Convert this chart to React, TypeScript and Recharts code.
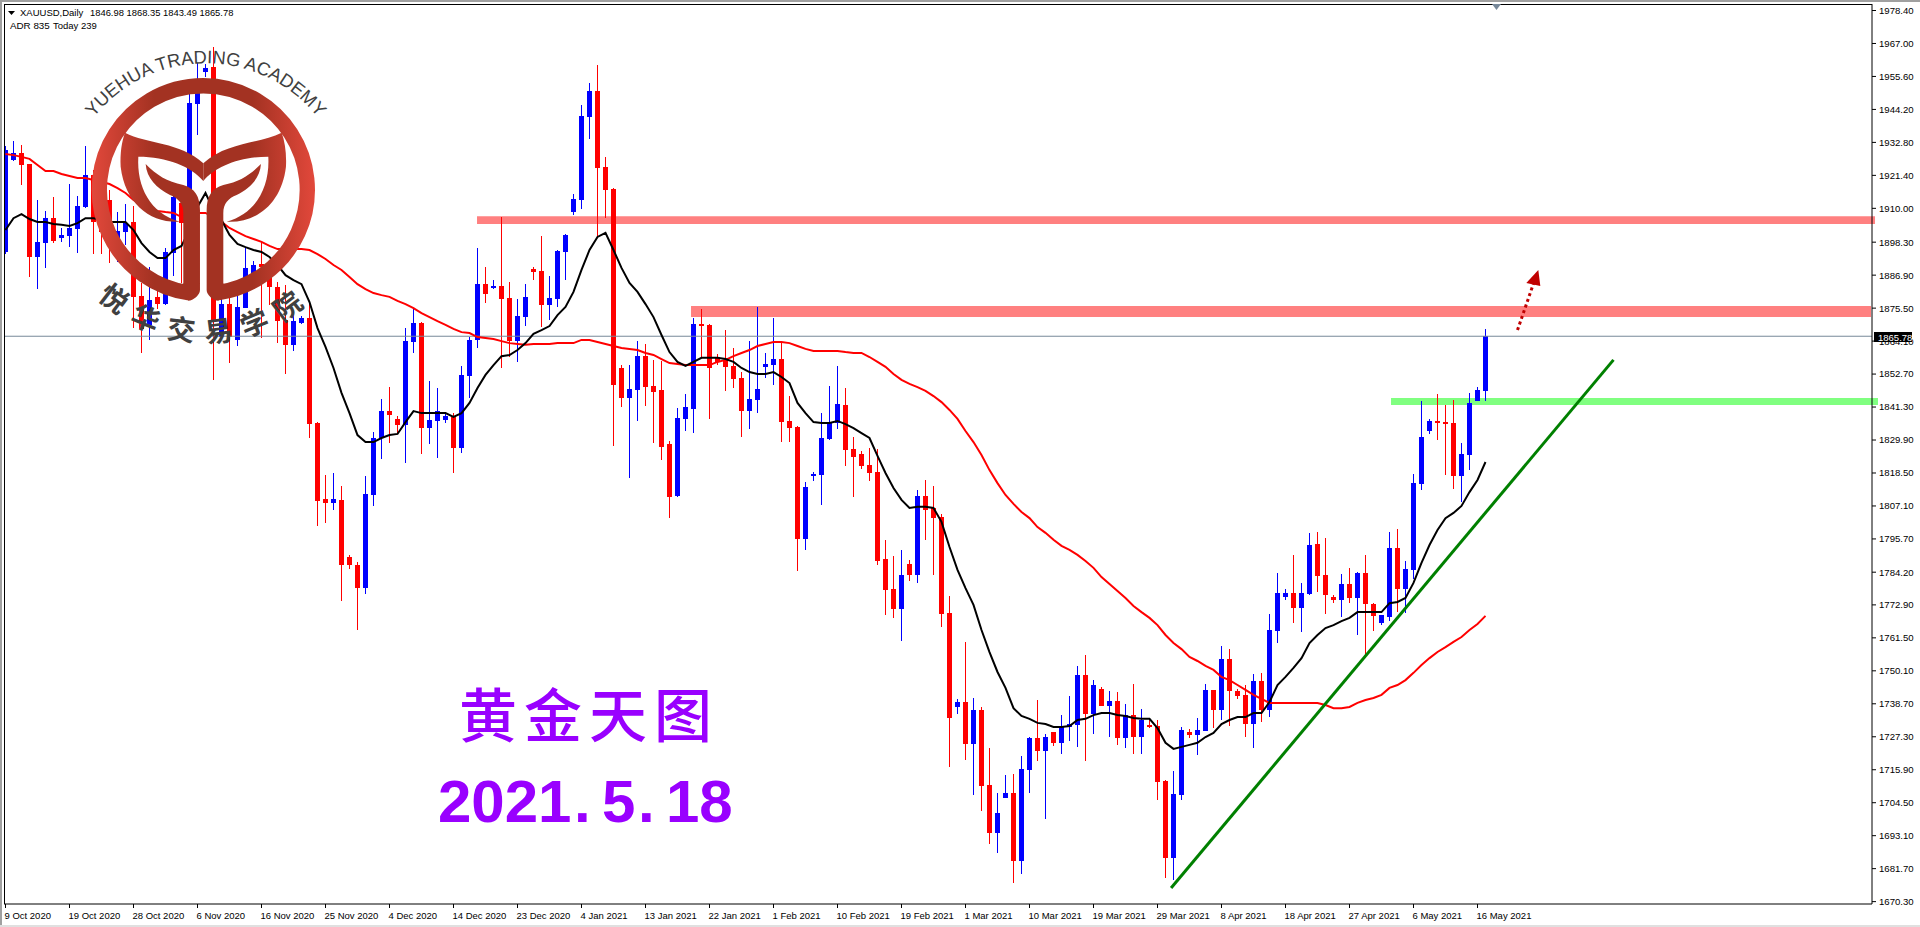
import {
  ComposedChart,
  Bar,
  Line,
  XAxis,
  YAxis,
  ReferenceArea,
  ReferenceLine,
  ReferenceDot,
} from 'recharts';

// XAUUSD daily candles
const opens = [
  1894.9, 1926.7, 1929.1, 1925.3, 1893.2, 1898.0, 1906.6, 1899.7, 1900.4, 1902.9,
  1910.5, 1921.5, 1916.3, 1912.9, 1899.0, 1901.8, 1905.3, 1879.7, 1869.7, 1879.4,
  1876.9, 1894.6, 1911.9, 1911.5, 1946.1, 1957.1, 1958.9, 1865.5, 1876.9, 1864.5,
  1875.5, 1887.6, 1890.8, 1889.4, 1882.8, 1871.4, 1862.8, 1870.4, 1872.1, 1835.8,
  1809.5, 1808.1, 1809.2, 1789.5, 1786.7, 1778.7, 1810.9, 1830.6, 1839.9, 1837.2,
  1835.1, 1863.8, 1870.4, 1834.0, 1836.5, 1836.8, 1838.2, 1827.1, 1852.0, 1864.5,
  1883.8, 1882.5, 1883.1, 1879.0, 1864.1, 1872.4, 1889.0, 1888.3, 1876.6, 1878.7,
  1894.9, 1908.7, 1912.9, 1941.6, 1950.6, 1924.3, 1916.7, 1854.8, 1844.4, 1847.2,
  1858.9, 1848.6, 1847.2, 1828.5, 1810.6, 1837.2, 1840.6, 1870.0, 1869.7, 1858.3,
  1857.6, 1855.5, 1851.4, 1839.9, 1843.7, 1855.2, 1855.8, 1857.9, 1836.5, 1834.4,
  1795.7, 1817.8, 1817.8, 1830.3, 1835.8, 1842.0, 1826.8, 1825.1, 1821.3, 1818.8,
  1788.8, 1778.4, 1771.5, 1787.0, 1783.2, 1810.6, 1806.4, 1803.3, 1770.1, 1737.6,
  1739.3, 1724.8, 1736.6, 1710.6, 1694.0, 1706.1, 1707.9, 1684.4, 1715.8, 1726.9,
  1722.4, 1729.0, 1725.2, 1730.7, 1731.4, 1748.7, 1735.2, 1743.8, 1737.9, 1739.7,
  1726.9, 1734.8, 1727.2, 1731.4, 1731.0, 1712.0, 1685.4, 1707.2, 1729.0, 1727.9,
  1729.3, 1743.5, 1736.6, 1754.2, 1743.1, 1741.7, 1731.7, 1746.6, 1736.6, 1763.9,
  1775.6, 1777.0, 1771.8, 1776.7, 1794.0, 1783.2, 1775.6, 1774.6, 1780.1, 1775.3,
  1783.9, 1773.2, 1766.6, 1768.7, 1792.6, 1778.4, 1785.0, 1814.7, 1833.0, 1836.5,
  1836.1, 1835.8, 1817.5, 1824.7, 1843.4, 1846.98,
];
const highs = [
  1931.6, 1933.3, 1931.9, 1925.3, 1912.9, 1909.1, 1913.9, 1903.2, 1918.4, 1914.3,
  1931.6, 1923.3, 1919.8, 1916.3, 1908.7, 1911.5, 1910.8, 1884.2, 1889.7, 1881.8,
  1896.3, 1916.3, 1914.6, 1949.9, 1960.3, 1959.9, 1965.8, 1880.0, 1884.2, 1880.0,
  1896.3, 1891.8, 1898.4, 1892.1, 1884.5, 1883.5, 1874.9, 1872.8, 1877.6, 1836.1,
  1817.8, 1818.5, 1814.0, 1790.2, 1787.7, 1817.5, 1832.7, 1844.1, 1848.2, 1838.2,
  1868.6, 1875.5, 1870.7, 1850.3, 1847.9, 1839.6, 1839.2, 1855.5, 1865.5, 1896.3,
  1889.7, 1885.2, 1907.0, 1884.5, 1878.7, 1883.8, 1889.7, 1900.4, 1886.6, 1895.6,
  1901.1, 1915.0, 1945.7, 1953.3, 1959.6, 1927.8, 1917.0, 1855.8, 1855.8, 1864.1,
  1863.1, 1857.6, 1857.2, 1829.6, 1841.0, 1845.8, 1872.1, 1875.2, 1870.0, 1859.6,
  1867.9, 1861.7, 1853.4, 1864.1, 1875.9, 1860.0, 1872.1, 1863.8, 1845.1, 1834.8,
  1815.4, 1818.8, 1839.2, 1848.6, 1855.5, 1847.9, 1830.9, 1826.1, 1827.1, 1826.8,
  1795.4, 1789.8, 1791.9, 1788.4, 1812.6, 1816.1, 1814.0, 1804.3, 1776.0, 1740.4,
  1760.1, 1740.7, 1737.6, 1723.4, 1707.9, 1714.1, 1714.4, 1720.7, 1727.2, 1740.0,
  1728.3, 1729.0, 1734.8, 1741.4, 1751.8, 1755.6, 1746.9, 1744.5, 1743.1, 1742.8,
  1738.6, 1745.6, 1736.9, 1733.1, 1733.1, 1712.4, 1715.5, 1730.7, 1730.0, 1733.8,
  1745.6, 1743.5, 1758.7, 1757.6, 1743.8, 1745.2, 1749.0, 1749.4, 1769.8, 1783.9,
  1778.4, 1790.2, 1780.5, 1797.8, 1798.1, 1796.0, 1776.3, 1783.6, 1785.7, 1784.3,
  1790.2, 1773.5, 1769.4, 1798.1, 1799.1, 1788.1, 1818.1, 1843.4, 1837.2, 1845.8,
  1842.0, 1843.7, 1828.9, 1846.2, 1848.2, 1868.35,
];
const lows = [
  1894.2, 1926.4, 1918.1, 1886.3, 1882.1, 1889.4, 1898.0, 1898.4, 1896.6, 1894.6,
  1910.1, 1894.2, 1894.2, 1891.1, 1891.4, 1897.3, 1868.6, 1860.0, 1864.5, 1875.2,
  1876.6, 1886.6, 1884.2, 1911.1, 1935.4, 1955.4, 1850.7, 1864.5, 1856.5, 1862.4,
  1875.5, 1886.9, 1865.2, 1876.6, 1863.4, 1852.7, 1860.7, 1870.0, 1830.6, 1800.2,
  1801.2, 1805.7, 1774.3, 1785.3, 1764.2, 1776.7, 1807.1, 1823.3, 1828.9, 1832.3,
  1821.9, 1860.0, 1825.1, 1828.5, 1823.7, 1835.8, 1818.5, 1825.4, 1844.4, 1861.7,
  1877.3, 1882.1, 1854.8, 1858.6, 1856.9, 1869.3, 1885.2, 1869.0, 1871.4, 1875.9,
  1885.2, 1907.7, 1909.8, 1934.0, 1900.1, 1906.6, 1827.8, 1841.3, 1816.8, 1836.5,
  1841.7, 1828.9, 1823.0, 1802.9, 1810.2, 1833.0, 1832.3, 1858.3, 1837.2, 1855.8,
  1846.9, 1847.9, 1830.9, 1833.7, 1839.2, 1851.4, 1848.9, 1829.2, 1829.2, 1784.6,
  1791.9, 1815.7, 1807.4, 1829.9, 1833.7, 1820.9, 1810.2, 1819.9, 1815.7, 1786.7,
  1769.4, 1768.4, 1760.4, 1781.2, 1780.5, 1795.4, 1783.2, 1765.3, 1716.9, 1735.2,
  1719.3, 1707.2, 1701.6, 1690.2, 1687.1, 1706.1, 1676.8, 1679.9, 1707.9, 1719.0,
  1698.9, 1724.1, 1721.4, 1725.8, 1723.8, 1719.0, 1728.3, 1737.9, 1727.2, 1724.5,
  1723.4, 1721.4, 1721.4, 1730.3, 1705.5, 1678.5, 1677.8, 1705.5, 1726.9, 1721.0,
  1729.3, 1730.3, 1733.1, 1731.0, 1740.4, 1727.2, 1723.4, 1732.4, 1734.1, 1759.7,
  1774.6, 1766.6, 1763.5, 1776.3, 1777.4, 1769.8, 1773.5, 1768.7, 1773.5, 1762.5,
  1755.6, 1763.9, 1765.9, 1767.3, 1770.4, 1770.1, 1781.9, 1812.6, 1832.0, 1829.9,
  1817.8, 1813.0, 1808.5, 1819.5, 1843.4, 1843.49,
];
const closes = [
  1930.2, 1929.1, 1925.0, 1893.2, 1898.4, 1906.6, 1898.7, 1900.8, 1903.2, 1910.8,
  1921.5, 1905.3, 1901.8, 1900.4, 1902.2, 1904.9, 1879.4, 1868.3, 1878.3, 1876.9,
  1894.9, 1913.9, 1904.9, 1946.4, 1949.9, 1958.5, 1871.4, 1876.9, 1865.5, 1875.9,
  1889.4, 1890.4, 1889.7, 1882.8, 1871.0, 1862.8, 1871.0, 1872.1, 1835.4, 1808.8,
  1808.1, 1809.5, 1786.7, 1786.7, 1778.7, 1811.2, 1830.6, 1839.9, 1838.6, 1835.1,
  1864.1, 1870.4, 1834.0, 1836.8, 1839.9, 1838.2, 1827.1, 1852.4, 1864.5, 1883.8,
  1880.4, 1883.1, 1878.7, 1864.1, 1872.8, 1879.4, 1888.0, 1876.6, 1879.0, 1895.2,
  1900.8, 1913.2, 1941.9, 1950.6, 1923.9, 1916.3, 1848.9, 1844.4, 1847.5, 1858.9,
  1848.2, 1846.5, 1827.5, 1810.2, 1837.5, 1841.3, 1870.0, 1869.3, 1854.8, 1856.9,
  1855.2, 1851.0, 1839.9, 1844.1, 1847.5, 1856.2, 1857.9, 1836.1, 1834.0, 1795.7,
  1813.7, 1818.1, 1830.6, 1835.8, 1842.4, 1826.5, 1824.0, 1820.9, 1818.5, 1788.1,
  1778.0, 1771.5, 1783.2, 1783.2, 1810.6, 1805.7, 1802.9, 1769.8, 1733.8, 1739.3,
  1724.8, 1736.6, 1710.3, 1694.0, 1700.9, 1707.9, 1684.4, 1716.2, 1726.9, 1722.4,
  1727.2, 1725.2, 1730.7, 1731.7, 1748.7, 1735.2, 1745.2, 1737.9, 1739.7, 1726.9,
  1734.8, 1727.2, 1733.1, 1730.7, 1711.7, 1685.4, 1707.5, 1729.6, 1727.9, 1729.6,
  1743.5, 1736.6, 1754.2, 1743.1, 1741.4, 1731.7, 1746.6, 1736.6, 1764.2, 1777.0,
  1777.0, 1771.8, 1777.0, 1793.6, 1782.9, 1776.3, 1774.6, 1780.1, 1775.3, 1783.9,
  1773.2, 1769.1, 1769.4, 1792.6, 1778.4, 1785.3, 1815.0, 1830.9, 1836.5, 1835.8,
  1835.4, 1817.5, 1825.1, 1842.7, 1847.2, 1865.78,
];

// the two moving averages
const maBlack = [
  1902.5, 1906.6, 1908.0, 1906.3, 1905.3, 1905.3, 1904.6, 1904.3, 1903.9, 1904.9,
  1906.6, 1906.6, 1906.0, 1905.3, 1905.3, 1905.3, 1902.5, 1898.0, 1894.9, 1892.8,
  1892.8, 1895.6, 1897.0, 1902.5, 1910.5, 1915.3, 1909.4, 1906.0, 1900.8, 1897.7,
  1896.6, 1895.6, 1894.9, 1893.2, 1890.4, 1886.9, 1885.2, 1883.8, 1877.6, 1868.6,
  1862.1, 1854.8, 1846.2, 1839.2, 1831.6, 1829.2, 1829.2, 1830.6, 1831.6, 1832.0,
  1836.1, 1839.9, 1839.2, 1839.2, 1839.2, 1839.2, 1837.9, 1839.2, 1842.7, 1847.9,
  1852.4, 1855.8, 1858.9, 1859.3, 1861.0, 1863.4, 1866.6, 1867.9, 1869.3, 1873.1,
  1875.9, 1881.1, 1888.7, 1895.6, 1900.1, 1901.5, 1895.6, 1889.4, 1884.2, 1881.1,
  1876.9, 1872.4, 1866.2, 1860.3, 1856.9, 1855.5, 1856.9, 1858.3, 1858.3, 1858.3,
  1857.9, 1856.9, 1854.8, 1853.4, 1852.7, 1852.7, 1853.4, 1851.7, 1849.6, 1842.7,
  1839.2, 1836.1, 1835.8, 1835.8, 1836.5, 1835.4, 1834.0, 1832.3, 1830.6, 1824.4,
  1818.5, 1813.3, 1809.2, 1806.4, 1806.8, 1806.8, 1806.4, 1801.6, 1792.9, 1785.0,
  1778.7, 1772.9, 1764.2, 1756.6, 1749.7, 1744.2, 1737.2, 1734.5, 1733.5, 1732.1,
  1731.7, 1730.7, 1730.7, 1731.0, 1733.1, 1733.5, 1734.8, 1735.5, 1735.5, 1734.8,
  1734.5, 1733.8, 1733.5, 1733.5, 1730.3, 1725.2, 1723.1, 1723.8, 1724.5, 1725.2,
  1727.2, 1728.6, 1731.7, 1733.1, 1734.1, 1734.1, 1735.5, 1735.5, 1739.3, 1745.2,
  1748.0, 1751.1, 1754.5, 1759.7, 1762.5, 1764.9, 1765.9, 1767.3, 1768.4, 1770.4,
  1770.4, 1770.4, 1770.4, 1773.5, 1773.9, 1775.3, 1780.5, 1787.4, 1793.6, 1798.8,
  1802.9, 1804.7, 1807.1, 1811.9, 1816.1, 1822.3,
];
const maRed = [
  1928.8, 1928.4, 1927.8, 1927.1, 1925.0, 1922.9, 1922.9, 1921.9, 1921.2, 1920.5,
  1920.5, 1919.8, 1919.1, 1918.4, 1917.0, 1915.3, 1912.9, 1911.2, 1910.1, 1909.1,
  1908.7, 1908.4, 1907.0, 1907.7, 1908.4, 1908.4, 1907.0, 1905.3, 1903.2, 1901.8,
  1900.4, 1899.4, 1898.4, 1897.0, 1895.9, 1895.9, 1895.9, 1895.9, 1895.6, 1894.2,
  1892.5, 1890.4, 1888.7, 1886.3, 1883.8, 1882.1, 1880.7, 1880.0, 1879.4, 1878.0,
  1876.9, 1875.5, 1873.8, 1872.4, 1871.0, 1869.7, 1868.3, 1867.2, 1866.9, 1865.5,
  1865.2, 1864.8, 1864.1, 1863.4, 1863.1, 1862.8, 1863.1, 1863.1, 1863.1, 1863.4,
  1863.4, 1863.4, 1864.5, 1864.5, 1863.8, 1863.1, 1862.4, 1861.7, 1861.4, 1861.0,
  1860.0, 1859.3, 1857.9, 1856.5, 1856.2, 1855.8, 1855.8, 1855.8, 1855.8, 1856.9,
  1857.6, 1858.9, 1860.0, 1861.0, 1862.4, 1863.1, 1863.8, 1863.8, 1863.4, 1862.4,
  1861.4, 1860.7, 1860.7, 1860.7, 1860.7, 1860.3, 1860.0, 1860.0, 1858.6, 1856.9,
  1855.2, 1852.7, 1850.7, 1849.3, 1848.2, 1846.9, 1845.1, 1843.0, 1840.3, 1837.2,
  1833.0, 1829.2, 1824.7, 1819.5, 1815.0, 1810.9, 1807.8, 1805.0, 1802.9, 1799.8,
  1797.8, 1795.4, 1793.3, 1791.9, 1790.2, 1788.1, 1785.7, 1782.5, 1780.1, 1777.7,
  1775.3, 1772.5, 1770.4, 1768.4, 1765.9, 1762.5, 1759.7, 1757.6, 1754.9, 1753.5,
  1751.8, 1750.4, 1748.0, 1746.9, 1745.2, 1743.5, 1741.8, 1740.4, 1739.0, 1739.0,
  1739.0, 1739.0, 1739.0, 1739.0, 1739.0, 1738.3, 1737.2, 1737.2, 1737.6, 1739.0,
  1740.0, 1740.7, 1741.8, 1744.2, 1745.2, 1746.9, 1749.4, 1752.1, 1754.5, 1756.6,
  1758.3, 1760.1, 1761.8, 1764.2, 1766.3, 1769.1,
];

const priceTicks = [
  1978.4, 1967.0, 1955.6, 1944.2, 1932.8, 1921.4, 1910.0, 1898.3, 1886.9, 1875.5,
  1864.1, 1852.7, 1841.3, 1829.9, 1818.5, 1807.1, 1795.7, 1784.2, 1772.9, 1761.5,
  1750.1, 1738.7, 1727.3, 1715.9, 1704.5, 1693.1, 1681.7, 1670.3,
];
const dateLabels = [
  '9 Oct 2020', '19 Oct 2020', '28 Oct 2020', '6 Nov 2020', '16 Nov 2020', '25 Nov 2020',
  '4 Dec 2020', '14 Dec 2020', '23 Dec 2020', '4 Jan 2021', '13 Jan 2021', '22 Jan 2021',
  '1 Feb 2021', '10 Feb 2021', '19 Feb 2021', '1 Mar 2021', '10 Mar 2021', '19 Mar 2021',
  '29 Mar 2021', '8 Apr 2021', '18 Apr 2021', '27 Apr 2021', '6 May 2021', '16 May 2021',
];
const BARS_PER_LABEL = 8;
const dateTicks = dateLabels.map((_, i) => i * BARS_PER_LABEL);

const BID = 1865.78;
const X_MAX = 233.3125;

const data = closes.map((close, i) => ({
  i,
  open: opens[i],
  high: highs[i],
  low: lows[i],
  close,
  range: [lows[i], highs[i]],
  maBlack: maBlack[i],
  maRed: maRed[i],
}));

const UI_FONT = '"Liberation Sans", Arial, sans-serif';
const CJK_FONT = '"Noto Sans CJK SC", sans-serif';

function Candle(props: any) {
  const { x, y, width, height, payload } = props;
  const { open, high, low, close } = payload;
  const up = close >= open;
  const color = up ? '#0000ff' : '#ff0000';
  const cx = Math.floor(x + width / 2);
  const py = (v: number) => y + ((high - v) / (high - low)) * height;
  const top = Math.round(py(Math.max(open, close)));
  const bottom = Math.round(py(Math.min(open, close)));
  return (
    <g>
      <rect x={cx} y={Math.round(y)} width={1} height={Math.max(1, Math.round(height))} fill={color} />
      <rect x={cx - 2} y={top} width={5} height={Math.max(2, bottom - top)} fill={color} />
    </g>
  );
}

function DateTick(props: any) {
  const { x, y, payload } = props;
  return (
    <text x={x - 1} y={y + 9} fontSize={9.5} fontFamily={UI_FONT} fill="#000" textAnchor="start">
      {dateLabels[payload.value / BARS_PER_LABEL]}
    </text>
  );
}

function ArrowHead(props: any) {
  const { cx, cy } = props;
  return <polygon points={`${cx},${cy} ${cx + 2},${cy + 16} ${cx - 12},${cy + 13}`} fill="#c00000" />;
}

function Logo() {
  const crescent =
    'M375 398 C440 432 540 425 610 490 L610 543 C575 500 500 470 415 470 C410 560 450 640 540 665 C450 670 375 610 362 500 C360 460 365 425 375 398 Z';
  const stem =
    'M437 492 C470 525 500 545 550 555 C585 565 600 590 600 630 L600 870 C600 885 580 902 565 902 L530 880 L550 850 L550 640 C550 610 535 595 510 585 C470 565 440 535 437 492 Z';
  return (
    <g>
      <defs>
        <linearGradient id="logoFill" gradientUnits="userSpaceOnUse" x1="275" y1="0" x2="945" y2="0">
          <stop offset="0" stopColor="#e2483b" />
          <stop offset="0.28" stopColor="#a33222" />
          <stop offset="0.72" stopColor="#a33222" />
          <stop offset="1" stopColor="#e2483b" />
        </linearGradient>
        <path id="logoTopArc" d="M187 620 A430 430 0 0 1 1047 620" />
        <path id="logoBottomArc" d="M157 566 A460 460 0 0 0 1077 566" />
      </defs>
      <g transform="scale(0.3333)">
        <path d="M565 878 A312 312 0 1 1 655 878" fill="none" stroke="url(#logoFill)" strokeWidth={46} />
        <path d={crescent} fill="url(#logoFill)" />
        <path d={crescent} fill="url(#logoFill)" transform="translate(1220,0) scale(-1,1)" />
        <path d={stem} fill="url(#logoFill)" />
        <path d={stem} fill="url(#logoFill)" transform="translate(1220,0) scale(-1,1)" />
        <text fontSize={55} fontFamily={UI_FONT} fill="#404040" textAnchor="middle">
          <textPath href="#logoTopArc" startOffset="50%">
            YUEHUA TRADING ACADEMY
          </textPath>
        </text>
        <text fontSize={84} fontWeight={700} fontFamily={CJK_FONT} fill="#404040" textAnchor="middle" letterSpacing={36}>
          <textPath href="#logoBottomArc" startOffset="50%">
            悦华交易学院
          </textPath>
        </text>
      </g>
    </g>
  );
}

function Overlay() {
  return (
    <svg width={1920} height={927} style={{ position: 'absolute', left: 0, top: 0, pointerEvents: 'none' }}>
      {/* terminal window frame */}
      <rect x={0} y={0} width={1920} height={2} fill="#a0a0a0" />
      <rect x={0} y={0} width={2} height={927} fill="#a0a0a0" />
      <rect x={0} y={925} width={1920} height={2} fill="#e0e0e0" />
      <rect x={4} y={4} width={1868} height={1} fill="#000" />
      <rect x={4} y={4} width={1} height={900} fill="#000" />
      <polygon points="1492,4 1501,4 1496.5,10" fill="#778899" />

      {/* bid tag sits above the axis labels */}
      <rect x={1874} y={332} width={38} height={10} fill="#000" />
      <text x={1878} y={341} fontSize={9.5} fontFamily={UI_FONT} fill="#fff">
        {BID.toFixed(2)}
      </text>

      <polygon points="8,11 15,11 11.5,15" fill="#000" />
      <text x={20} y={16} fontSize={9.5} fontFamily={UI_FONT} fill="#000">
        XAUUSD,Daily
      </text>
      <text x={90} y={16} fontSize={9.4} fontFamily={UI_FONT} fill="#000">
        1846.98 1868.35 1843.49 1865.78
      </text>
      <text x={10} y={29} fontSize={9.8} fontFamily={UI_FONT} fill="#000">
        ADR 835
      </text>
      <text x={53} y={29} fontSize={9.5} fontFamily={UI_FONT} fill="#000">
        Today 239
      </text>

      <Logo />

      <text x={459} y={737} fontSize={58} fontFamily={CJK_FONT} fontWeight={500} fill="#9900ff" letterSpacing={7}>
        黄金天图
      </text>
      <text y={822} fontSize={60} fontWeight={700} fontFamily={UI_FONT} fill="#9900ff">
        <tspan x={438}>2021</tspan>
        <tspan x={574}>.</tspan>
        <tspan x={602}>5</tspan>
        <tspan x={638}>.</tspan>
        <tspan x={666}>18</tspan>
      </text>
    </svg>
  );
}

export default function App() {
  return (
    <div style={{ position: 'absolute', left: 0, top: 0, width: 1920, height: 927, background: '#fff', overflow: 'hidden' }}>
      <ComposedChart width={1920} height={927} data={data} margin={{ top: 4, right: 0, bottom: 0, left: 4 }}>
        <XAxis
          dataKey="i"
          type="number"
          domain={[-0.1875, X_MAX]}
          ticks={dateTicks}
          interval={0}
          height={23}
          tick={<DateTick />}
          tickSize={4}
          stroke="#000"
          allowDataOverflow
        />
        <YAxis
          orientation="right"
          type="number"
          domain={[1669.48, 1980.65]}
          ticks={priceTicks}
          interval={0}
          width={48}
          tickSize={4}
          tickMargin={3}
          stroke="#000"
          tick={{ fontSize: 9.6, fontFamily: UI_FONT, fill: '#000' }}
          tickFormatter={(v: number) => v.toFixed(2)}
          allowDataOverflow
        />

        <ReferenceArea x1={58.94} x2={233.69} y1={1904.6} y2={1907.3} fill="#ff8080" fillOpacity={1} stroke="none" ifOverflow="visible" />
        <ReferenceArea x1={85.69} x2={233.19} y1={1872.4} y2={1876.2} fill="#ff8080" fillOpacity={1} stroke="none" ifOverflow="visible" />
        <ReferenceArea x1={173.19} x2={234.06} y1={1842.0} y2={1844.4} fill="#80ff80" fillOpacity={1} stroke="none" ifOverflow="visible" />
        <ReferenceLine y={BID} stroke="#778899" strokeWidth={1} />

        <Bar dataKey="range" barSize={5} shape={<Candle />} isAnimationActive={false} />
        <Line dataKey="maRed" stroke="#ff0000" strokeWidth={2} dot={false} type="linear" isAnimationActive={false} />
        <Line dataKey="maBlack" stroke="#000000" strokeWidth={2} dot={false} type="linear" isAnimationActive={false} />

        <ReferenceLine
          segment={[{ x: 145.7, y: 1675.0 }, { x: 201.0, y: 1857.6 }]}
          stroke="#008000"
          strokeWidth={3}
        />
        <ReferenceLine
          segment={[{ x: 189.0, y: 1867.9 }, { x: 191.0, y: 1884.0 }]}
          stroke="#c00000"
          strokeWidth={3}
          strokeDasharray="3 3"
        />
        <ReferenceDot x={191.6} y={1888.7} shape={<ArrowHead />} ifOverflow="visible" />
      </ComposedChart>
      <Overlay />
    </div>
  );
}
